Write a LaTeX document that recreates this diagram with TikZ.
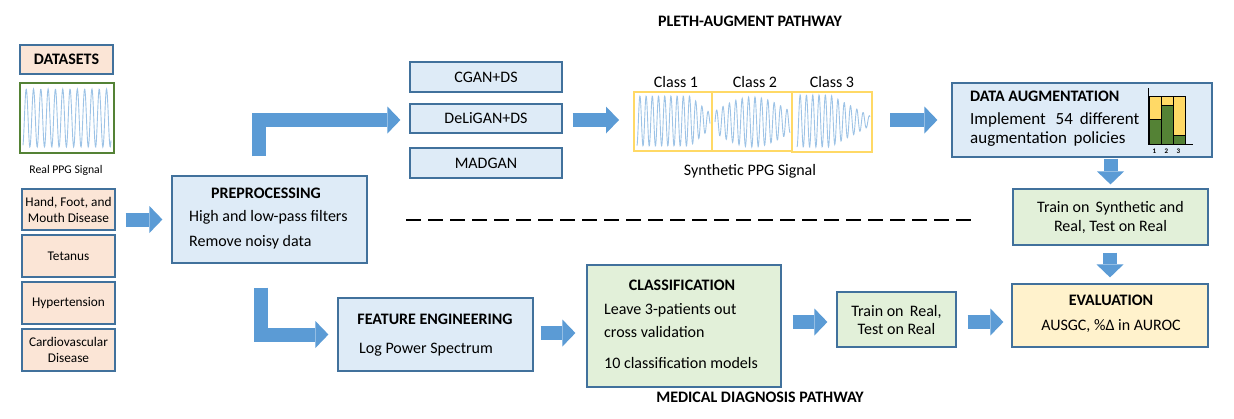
\documentclass[tikz,border=0pt]{standalone}
\usepackage{fontspec}
\setmainfont{Carlito}
\usetikzlibrary{arrows.meta,calc}
\definecolor{bfill}{HTML}{DEEBF7}
\definecolor{bord}{HTML}{41719C}
\definecolor{pfill}{HTML}{FBE5D6}
\definecolor{gfill}{HTML}{E2F0D9}
\definecolor{yfill}{HTML}{FFF2CC}
\definecolor{arrowblue}{HTML}{5B9BD5}
\definecolor{dgreen}{HTML}{548235}
\definecolor{ygold}{HTML}{FFD966}
\definecolor{sig}{HTML}{9DC3E6}
\begin{document}
\begin{tikzpicture}[x=1pt,y=-1pt,
  box/.style={draw=bord, line width=1.2pt, inner sep=0pt, align=center, font=\fontsize{16}{19}\selectfont},
  bluebox/.style={box, fill=bfill},
  peachbox/.style={box, fill=pfill, minimum width=93pt, font=\fontsize{13.3}{16}\selectfont},
  greenbox/.style={box, fill=gfill},
  yellowbox/.style={box, fill=yfill},
  classbox/.style={draw=ygold, line width=2pt, inner sep=0pt},
  txt/.style={inner sep=0pt, font=\fontsize{16}{19}\selectfont},
  ttl/.style={inner sep=0pt, font=\fontsize{16}{19}\selectfont\bfseries},
  barrow/.style={draw=arrowblue, line width=14pt, line join=miter,
     -{Triangle[length=13pt,width=27pt,line width=0pt]}},
  wave/.style={draw=sig, line width=0.9pt},
]
\useasboundingbox (0,0) rectangle (1234,418);

% titles
\node[ttl] (tplet) at (750,21) {PLETH-AUGMENT PATHWAY};
\node[ttl] (tmed) at (760,397) {MEDICAL DIAGNOSIS PATHWAY};

% datasets column
\node[peachbox, minimum height=29pt, font=\fontsize{16}{19}\selectfont\bfseries] (datasets) at (66.5,59.5) {DATASETS};
\node[draw=dgreen, line width=2pt, minimum width=94pt, minimum height=70pt, inner sep=0pt] (realppg) at (66.5,117.5) {};
\draw[wave] plot[domain=23:111, samples=260] (\x, {118 - 29*sin((\x-23)/7.3*360 - 70)});
\node[inner sep=0pt, font=\fontsize{11.7}{14}\selectfont] (reallbl) at (66,170) {Real PPG Signal};
\node[peachbox, minimum height=41pt] (hand) at (68.5,209.5) {Hand, Foot, and\\Mouth Disease};
\node[peachbox, minimum height=42pt] (tetanus) at (68.5,256) {Tetanus};
\node[peachbox, minimum height=42pt] (hyper) at (68.5,303) {Hypertension};
\node[peachbox, minimum height=42pt] (cardio) at (68.5,350) {Cardiovascular\\Disease};

% preprocessing
\node[bluebox, minimum width=195pt, minimum height=87pt] (pre) at (269.5,219.5) {};
\node[ttl] (pret) at (266,193) {PREPROCESSING};
\node[txt, anchor=mid west] (pre1) at (189,219) {High and low-pass filters};
\node[txt, anchor=mid west] (pre2) at (189,244) {Remove noisy data};

% GAN boxes
\node[bluebox, minimum width=152pt, minimum height=30pt] (cgan) at (486,77) {CGAN+DS};
\node[bluebox, minimum width=152pt, minimum height=29pt] (deligan) at (486,118.5) {DeLiGAN+DS};
\node[bluebox, minimum width=152pt, minimum height=30pt] (madgan) at (486,163) {MADGAN};

% synthetic signals
\node[txt] (c1l) at (676,82) {Class 1};
\node[txt] (c2l) at (755,82) {Class 2};
\node[txt] (c3l) at (832,82) {Class 3};
\draw[wave] plot[domain=637:710, samples=260] (\x, {121 - ((\x<690) ? 25 : (25-(\x-690)/20*17))*sin((\x-637)/6.2*360 - 80)});
\draw[wave] plot[domain=715:790, samples=260] (\x, {122 - (11 + 14*sin((\x-715)/75*180))*sin((\x-715)/6.4*360)});
\draw[wave] plot[domain=797:870, samples=260] (\x, {121 - ((\x<830) ? 26 : (26-(\x-830)/40*21))*sin((\x-797)/6.3*360 - 90)});
\node[classbox, minimum width=78pt, minimum height=59pt] (class1) at (673,121.5) {};
\node[classbox, minimum width=80pt, minimum height=59pt] (class2) at (752,121.5) {};
\node[classbox, minimum width=80pt, minimum height=60pt] (class3) at (832,122) {};
\node[txt] (synlbl) at (750,171) {Synthetic PPG Signal};

% data augmentation
\node[bluebox, minimum width=260pt, minimum height=74pt] (da) at (1082,120) {};
\node[ttl, anchor=mid west] (dat) at (970,99) {DATA AUGMENTATION};
\node[txt, anchor=mid west, font=\fontsize{17}{20}\selectfont] (da1) at (970,122) {Implement\hspace{6pt} 54\hspace{3pt} different};
\node[txt, anchor=mid west, font=\fontsize{17}{20}\selectfont] (da2) at (970,141) {augmentation\, policies};
% bar chart
\fill[ygold, draw=black, line width=0.5pt] (1149,96) rectangle (1161.7,144);
\fill[ygold, draw=black, line width=0.5pt] (1161.7,96) rectangle (1173.3,144);
\fill[ygold, draw=black, line width=0.5pt] (1173.3,96) rectangle (1185.7,144);
\fill[dgreen, draw=black, line width=0.5pt] (1149,119.3) rectangle (1161.7,144);
\fill[dgreen, draw=black, line width=0.5pt] (1161.7,105) rectangle (1173.3,144);
\fill[dgreen, draw=black, line width=0.5pt] (1173.3,135.7) rectangle (1185.7,144);
\draw[line width=0.8pt] (1148,88) -- (1148,144) -- (1193,144);
\node[inner sep=0pt, font=\fontsize{7}{8}\selectfont\bfseries] (b1) at (1154.5,151) {1};
\node[inner sep=0pt, font=\fontsize{7}{8}\selectfont\bfseries] (b2) at (1166.5,151) {2};
\node[inner sep=0pt, font=\fontsize{7}{8}\selectfont\bfseries] (b3) at (1178.5,151) {3};

% right column
\node[greenbox, minimum width=195pt, minimum height=56pt, font=\fontsize{16}{19}\selectfont] (trainsyn) at (1110.5,217) {Train on\, Synthetic and\\Real, Test on Real};
\node[yellowbox, minimum width=196pt, minimum height=63pt] (eval) at (1110,315.5) {};
\node[ttl] (evt) at (1111,300) {EVALUATION};
\node[txt] (ev1) at (1111,326) {AUSGC, \%Δ in AUROC};

% lower pathway
\node[bluebox, minimum width=195pt, minimum height=73pt] (feat) at (435.5,334.5) {};
\node[ttl] (featt) at (435,319) {FEATURE ENGINEERING};
\node[txt, anchor=mid west] (feat1) at (359,351) {Log Power Spectrum};

\node[greenbox, minimum width=194pt, minimum height=122pt] (class) at (684,326) {};
\node[ttl] (clst) at (682,285) {CLASSIFICATION};
\node[txt, anchor=mid west] (cl1) at (604,312) {Leave 3-patients out};
\node[txt, anchor=mid west] (cl2) at (604,335) {cross validation};
\node[txt, anchor=mid west] (cl3) at (604,366) {10 classification models};

\node[greenbox, minimum width=119pt, minimum height=55pt, font=\fontsize{16}{18}\selectfont] (trainreal) at (896.5,319.5) {Train on\, Real,\\Test on Real};

% dashed separator
\coordinate (dashL) at (406,220);
\coordinate (dashR) at (972,220);
\draw[line width=2pt, dash pattern=on 14.5pt off 7.5pt] (dashL) -- (dashR);

% block arrows
\draw[barrow] ([xshift=10pt]hand.east |- pre.west) -- ([xshift=-9pt]pre.west);
\draw[barrow] ([xshift=-10.5pt,yshift=19pt]pre.north) |- ([xshift=-9pt,yshift=-1.5pt]deligan.west);
\draw[barrow] ([xshift=-8.5pt,yshift=-24pt]pre.south) |- ([xshift=-9pt]feat.west);
\draw[barrow] ([xshift=10pt,yshift=-1.5pt]deligan.east) -- ([xshift=-14pt,yshift=-1.5pt]deligan.east -| class1.west);
\draw[barrow] ([xshift=17pt]class3.east |- da.west) -- ([xshift=-14pt]da.west);
\draw[barrow] ([yshift=-1pt]trainsyn.north |- da.south) -- ([yshift=4pt]trainsyn.north);
\draw[barrow] ([yshift=-7pt]trainsyn.south -| eval.north) -- ([yshift=6pt]eval.north);
\draw[barrow] ([xshift=7pt,yshift=1.5pt]feat.east) -- ([xshift=-11pt,yshift=1.5pt]feat.east -| class.west);
\draw[barrow] ([xshift=11pt,yshift=-2.5pt]class.east |- trainreal.west) -- ([xshift=-9pt,yshift=-2.5pt]trainreal.west);
\draw[barrow] ([xshift=11pt,yshift=-2.5pt]trainreal.east) -- ([xshift=-8pt,yshift=-2.5pt]trainreal.east -| eval.west);
\end{tikzpicture}
\end{document}
